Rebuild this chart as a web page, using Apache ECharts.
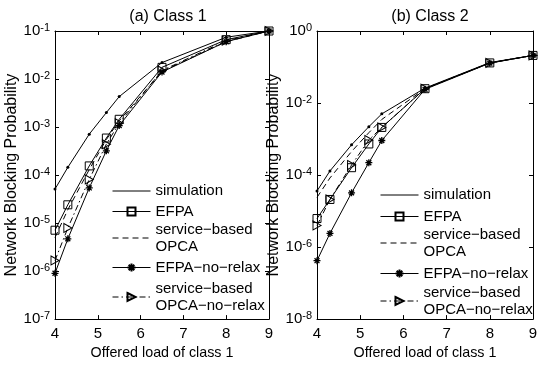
<!DOCTYPE html>
<html><head><meta charset="utf-8">
<script src="https://cdn.jsdelivr.net/npm/echarts@6/dist/echarts.min.js"></script>
<style>html,body{margin:0;padding:0;background:#fff}#c{width:541px;height:365px}</style>
</head><body><div id="c"></div>
<script>
const loads = [4, 4.3, 4.8, 5.2, 5.5, 6.5, 8, 9];
// Class 1 (left)
const sim1   = [5.1e-5, 1.45e-4, 7.1e-4, 2.0e-3, 4.3e-3, 2.2e-2, 7.4e-2, 0.1];
const efpa1  = [7.1e-6, 2.4e-5, 1.55e-4, 5.9e-4, 1.45e-3, 1.75e-2, 6.6e-2, 0.1];
const opca1  = [5.0e-6, 1.9e-5, 1.3e-4, 5.5e-4, 1.35e-3, 1.45e-2, 6.0e-2, 0.1];
const efpaNR1= [9.0e-7, 4.7e-6, 5.4e-5, 3.2e-4, 1.07e-3, 1.4e-2, 6.0e-2, 0.1];
const opcaNR1= [1.66e-6, 7.9e-6, 8.1e-5, 4.4e-4, 1.2e-3, 1.5e-2, 6.3e-2, 0.1];
// Class 2 (right)
const sim2   = [3.6e-5, 1.3e-4, 6.9e-4, 2.2e-3, 5.0e-3, 2.6e-2, 0.133, 0.21];
const efpa2  = [6.2e-6, 2.1e-5, 1.6e-4, 7.3e-4, 2.1e-3, 2.5e-2, 0.13, 0.21];
const opca2  = [2.4e-5, 8.3e-5, 4.5e-4, 1.5e-3, 3.5e-3, 2.5e-2, 0.13, 0.21];
const efpaNR2= [4.2e-7, 2.4e-6, 3.2e-5, 2.2e-4, 9.1e-4, 2.4e-2, 0.128, 0.21];
const opcaNR2= [4.0e-6, 2.1e-5, 1.9e-4, 9.4e-4, 2.1e-3, 2.5e-2, 0.13, 0.21];
const names = ['simulation', 'EFPA', 'service-based OPCA', 'EFPA-no-relax', 'service-based OPCA-no-relax'];
const legendText = {
  'simulation': 'simulation',
  'EFPA': 'EFPA',
  'service-based OPCA': 'service\u2212based\nOPCA',
  'EFPA-no-relax': 'EFPA\u2212no\u2212relax',
  'service-based OPCA-no-relax': 'service\u2212based\nOPCA\u2212no\u2212relax'
};
const titles = ['(a) Class 1', '(b) Class 2'];
const xTitle = 'Offered load of class 1';
const yTitle = 'Network Blocking Probability';
const yRanges = [[1e-7, 1e-1, 1], [1e-8, 1, 2]];

const FONT = 'Liberation Sans, Arial, sans-serif';
const BLK = '#000';
const STAR = 'path://M5,0L5,10M0,5L10,5M1.5,1.5L8.5,8.5M1.5,8.5L8.5,1.5';
const TRI = 'path://M0,0L10,5L0,10Z';

function pairs(arr){ return loads.map((x,i)=>[x, arr[i]]); }
function supLabel(v){
  const e = Math.round(Math.log10(v));
  return '{a|10}{b|' + (e<0?'-':'') + Math.abs(e) + '}';
}
const grids = [
  {left:55, top:31, width:214, height:295},
  {left:317, top:31, width:216, height:295}
];
const xAxis = [], yAxis = [], series = [];
grids.forEach((g, gi) => {
  const common = {gridIndex: gi, splitLine:{show:false},
    axisLine:{show:true, onZero:false, lineStyle:{color:BLK, width:1}},
    axisTick:{show:true, inside:true, length:4, lineStyle:{color:BLK}}};
  xAxis.push(Object.assign({}, common, {type:'value', min:4, max:9, interval:1, position:'bottom',
    axisLabel:{color:BLK, fontSize:15, fontFamily:FONT, margin:7},
    name:xTitle, nameLocation:'middle', nameGap:26,
    nameTextStyle:{color:BLK, fontSize:14.3, fontFamily:FONT}}));
  xAxis.push(Object.assign({}, common, {type:'value', min:4, max:9, interval:1, position:'top', axisLabel:{show:false}}));
  const [mn, mx, iv] = yRanges[gi];
  yAxis.push(Object.assign({}, common, {type:'log', logBase:10, min:mn, max:mx, interval:iv, position:'left',
    axisLabel:{formatter: supLabel, margin:5, rich:{
      a:{fontSize:15, fontFamily:FONT, color:BLK},
      b:{fontSize:11, fontFamily:FONT, color:BLK, verticalAlign:'top', padding:[0,0,7,0]}}},
    name:yTitle, nameLocation:'middle', nameGap: gi===0?35:26,
    nameTextStyle:{color:BLK, fontSize:16, fontFamily:FONT}}));
  yAxis.push(Object.assign({}, common, {type:'log', logBase:10, min:mn, max:mx, interval:iv, position:'right', axisLabel:{show:false}}));
  const xi = gi*2, yi = gi*2;
  const d = gi===0 ? [sim1, efpa1, opca1, efpaNR1, opcaNR1] : [sim2, efpa2, opca2, efpaNR2, opcaNR2];
  const base = {type:'line', xAxisIndex:xi, yAxisIndex:yi, animation:false, silent:true, z:3, clip:false};
  series.push(Object.assign({}, base, {name:names[0], data:pairs(d[0]), symbol:'circle', symbolSize:3,
    lineStyle:{color:BLK, width:1}, itemStyle:{color:BLK}}));
  series.push(Object.assign({}, base, {name:names[1], data:pairs(d[1]), symbol:'rect', symbolSize:8,
    lineStyle:{color:BLK, width:1}, itemStyle:{color:'rgba(255,255,255,0)', borderColor:BLK, borderWidth:1}}));
  series.push(Object.assign({}, base, {name:names[2], data:pairs(d[2]), symbol:'none',
    lineStyle:{color:BLK, width:1, type:[6,4]}, itemStyle:{color:BLK}}));
  series.push(Object.assign({}, base, {name:names[3], data:pairs(d[3]), symbol:STAR, symbolSize:7,
    lineStyle:{color:BLK, width:1}, itemStyle:{color:'rgba(255,255,255,0)', borderColor:BLK, borderWidth:1.3}}));
  series.push(Object.assign({}, base, {name:names[4], data:pairs(d[4]), symbol:TRI, symbolSize:[8,9],
    lineStyle:{color:BLK, width:1, type:[6,3,1.5,3]}, itemStyle:{color:'rgba(255,255,255,0)', borderColor:BLK, borderWidth:1}}));
});
// one legend component per entry so each row can sit exactly where the reference has it
const legendRowTops = [[182.5, 203, 221, 259, 280], [186.5, 208, 226, 265, 284]];
const legendLefts = [112, 380];
const legend = [];
[0,1].forEach(gi => {
  names.forEach((n, k) => {
    const noSym = (k === 0 || k === 2);
    legend.push({orient:'vertical', itemWidth:38, itemHeight:10, itemGap:0, padding:0, selectedMode:false,
      left: legendLefts[gi], top: legendRowTops[gi][k],
      formatter: nm => legendText[nm],
      lineStyle:{width:1},
      data: [noSym ? {name:n, itemStyle:{opacity:0}} : {name:n}],
      textStyle:{color:BLK, fontSize:15, fontFamily:FONT, lineHeight:17}});
  });
});
const option = {
  backgroundColor:'#fff',
  title: titles.map((t,i)=>({text:t, left: i===0?163:425, top:4, textAlign:'center',
    textStyle:{color:BLK, fontSize:16, fontWeight:'normal', fontFamily:FONT}})),
  grid: grids, xAxis, yAxis, series, legend
};
const chart = echarts.init(document.getElementById('c'), null, {renderer:'canvas'});
chart.setOption(option);
</script></body></html>
